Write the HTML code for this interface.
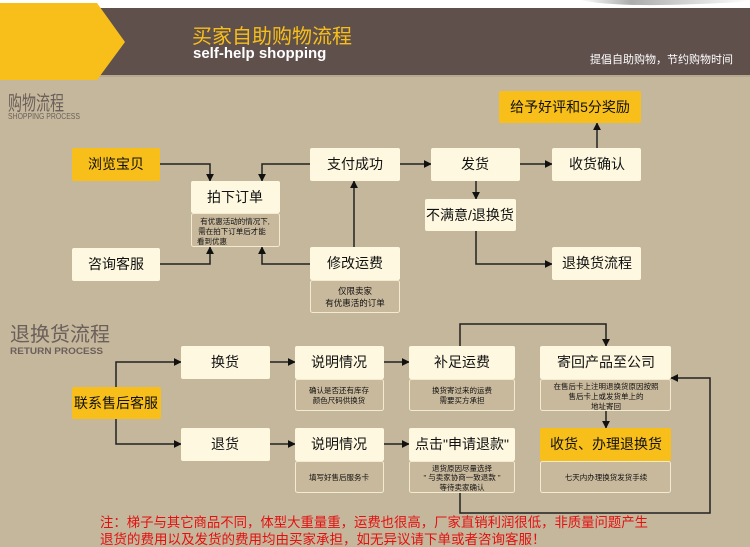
<!DOCTYPE html>
<html><head><meta charset="utf-8"><style>
html,body{margin:0;padding:0;background:#c5b79c}
svg{display:block}
text{font-family:"Liberation Sans","Noto Sans CJK SC",sans-serif}
</style></head><body>
<svg width="750" height="547" viewBox="0 0 750 547" xmlns="http://www.w3.org/2000/svg">
<defs>
<marker id="a" viewBox="0 0 10 10" refX="9" refY="5" markerWidth="8" markerHeight="8" markerUnits="userSpaceOnUse" orient="auto"><path d="M0,0L10,5L0,10z" fill="#111"/></marker>
<linearGradient id="sh" x1="0" y1="0" x2="1" y2="0"><stop offset="0" stop-color="#fff"/><stop offset="0.3" stop-color="#888"/><stop offset="1" stop-color="#fff"/></linearGradient>
</defs>
<rect width="750" height="547" fill="#c5b79c"/>
<rect width="750" height="8" fill="#fff"/>
<path d="M580,0 Q620,9 740,2 L750,0z" fill="url(#sh)" opacity="0.7"/>
<rect y="8" width="750" height="67" fill="#5f504c"/>
<rect y="75" width="750" height="2" fill="#b7a98f"/>
<path d="M0,3 L97,3 L125,42 L97,80 L0,80z" fill="#f8bf1a"/>
<text x="192" y="43" font-size="20" fill="#f8bf1a">买家自助购物流程</text>
<text x="193" y="58" font-size="15" font-weight="bold" fill="#fff">self-help shopping</text>
<text x="590" y="63" font-size="11" fill="#fff">提倡自助购物，节约购物时间</text>

<text x="8" y="110" font-size="20" fill="#6b5f5a" textLength="56" lengthAdjust="spacingAndGlyphs">购物流程</text>
<text x="8" y="119" font-size="8" fill="#6b5f5a" textLength="72" lengthAdjust="spacingAndGlyphs">SHOPPING PROCESS</text>
<text x="10" y="341" font-size="20" fill="#6b5f5a">退换货流程</text>
<text x="10" y="354" font-size="9" font-weight="bold" fill="#6b5f5a" textLength="93" lengthAdjust="spacingAndGlyphs">RETURN PROCESS</text>

<g stroke="#222" stroke-width="1.5" fill="none" marker-end="url(#a)">
<path d="M160,164H210V181"/>
<path d="M310,164H262V181"/>
<path d="M160,264H210V247"/>
<path d="M310,264H262V247"/>
<path d="M354,247V181"/>
<path d="M400,164H431"/>
<path d="M520,164H552"/>
<path d="M597,148V123"/>
<path d="M476,181V199"/>
<path d="M476,231V264H552"/>
<path d="M116,387V362H181"/>
<path d="M116,419V444H181"/>
<path d="M270,362H295"/>
<path d="M384,362H409"/>
<path d="M270,444H295"/>
<path d="M384,444H409"/>
<path d="M460,346V324H606V346"/>
<path d="M606,411V428"/>
<path d="M460,493V513H710V378H671"/>
</g>

<g font-size="14" text-anchor="middle" fill="#111">
<rect x="72" y="148" width="88" height="33" rx="2" fill="#f8bf1a"/><text x="116" y="169">浏览宝贝</text>
<rect x="72" y="248" width="88" height="33" rx="2" fill="#fdf8df"/><text x="116" y="269">咨询客服</text>
<rect x="191" y="181" width="89" height="32" rx="2" fill="#fdf8df"/><text x="235" y="202">拍下订单</text>
<rect x="191.5" y="213.5" width="88" height="33" rx="2" fill="#c9b99c" stroke="#f3ebcf"/>
<text x="235" y="224" font-size="7.5">有优惠活动的情况下,</text><text x="232" y="234" font-size="7.5">需在拍下订单后才能</text><text x="212" y="244" font-size="7.5">看到优惠</text>
<rect x="310" y="148" width="90" height="33" rx="2" fill="#fdf8df"/><text x="355" y="169">支付成功</text>
<rect x="310" y="247" width="90" height="33" rx="2" fill="#fdf8df"/><text x="355" y="268">修改运费</text>
<rect x="310.5" y="280.5" width="89" height="32" rx="2" fill="#c9b99c" stroke="#f3ebcf"/>
<text x="355" y="294" font-size="8.5">仅限卖家</text><text x="355" y="306" font-size="8.5">有优惠活的订单</text>
<rect x="431" y="148" width="89" height="33" rx="2" fill="#fdf8df"/><text x="475" y="169">发货</text>
<rect x="425" y="199" width="91" height="32" rx="2" fill="#fdf8df"/><text x="470" y="220">不满意/退换货</text>
<rect x="552" y="148" width="89" height="33" rx="2" fill="#fdf8df"/><text x="597" y="169">收货确认</text>
<rect x="552" y="247" width="89" height="33" rx="2" fill="#fdf8df"/><text x="597" y="268">退换货流程</text>
<rect x="499" y="91" width="142" height="32" rx="2" fill="#f8bf1a"/><text x="570" y="112">给予好评和5分奖励</text>

<rect x="72" y="387" width="89" height="32" rx="2" fill="#f8bf1a"/><text x="116" y="408">联系售后客服</text>
<rect x="181" y="346" width="89" height="33" rx="2" fill="#fdf8df"/><text x="225" y="367">换货</text>
<rect x="181" y="428" width="89" height="33" rx="2" fill="#fdf8df"/><text x="225" y="449">退货</text>
<rect x="295" y="346" width="89" height="33" rx="2" fill="#fdf8df"/><text x="339" y="367">说明情况</text>
<rect x="295" y="428" width="89" height="33" rx="2" fill="#fdf8df"/><text x="339" y="449">说明情况</text>
<rect x="409" y="346" width="106" height="33" rx="2" fill="#fdf8df"/><text x="462" y="367">补足运费</text>
<rect x="409" y="428" width="106" height="33" rx="2" fill="#fdf8df"/><text x="462" y="449">点击"申请退款"</text>
<rect x="540" y="346" width="131" height="33" rx="2" fill="#fdf8df"/><text x="606" y="367">寄回产品至公司</text>
<rect x="540" y="428" width="131" height="33" rx="2" fill="#f8bf1a"/><text x="606" y="449">收货、办理退换货</text>

<g font-size="7.5">
<rect x="295.5" y="379.5" width="88" height="31" rx="2" fill="#c9b99c" stroke="#f3ebcf"/>
<text x="339" y="393">确认是否还有库存</text><text x="339" y="403">颜色尺码供换货</text>
<rect x="409.5" y="379.5" width="105" height="31" rx="2" fill="#c9b99c" stroke="#f3ebcf"/>
<text x="462" y="393">换货寄过来的运费</text><text x="462" y="403">需要买方承担</text>
<rect x="540.5" y="379.5" width="130" height="31" rx="2" fill="#c9b99c" stroke="#f3ebcf"/>
<text x="606" y="389">在售后卡上注明退换货原因按照</text><text x="606" y="399">售后卡上或发货单上的</text><text x="606" y="409">地址寄回</text>
<rect x="295.5" y="461.5" width="88" height="31" rx="2" fill="#c9b99c" stroke="#f3ebcf"/>
<text x="339" y="480">填写好售后服务卡</text>
<rect x="409.5" y="461.5" width="105" height="31" rx="2" fill="#c9b99c" stroke="#f3ebcf"/>
<text x="462" y="471">退货原因尽量选择</text><text x="462" y="480">" 与卖家协商一致退款 "</text><text x="462" y="490">等待卖家确认</text>
<rect x="540.5" y="461.5" width="130" height="31" rx="2" fill="#c9b99c" stroke="#f3ebcf"/>
<text x="606" y="480">七天内办理换货发货手续</text>
</g>
</g>

<g font-size="13.5" fill="#e41010">
<text x="100" y="527" textLength="548" lengthAdjust="spacingAndGlyphs">注：梯子与其它商品不同，体型大重量重，运费也很高，厂家直销利润很低，非质量问题产生</text>
<text x="100" y="544">退货的费用以及发货的费用均由买家承担，如无异议请下单或者咨询客服！</text>
</g>
</svg>
</body></html>
